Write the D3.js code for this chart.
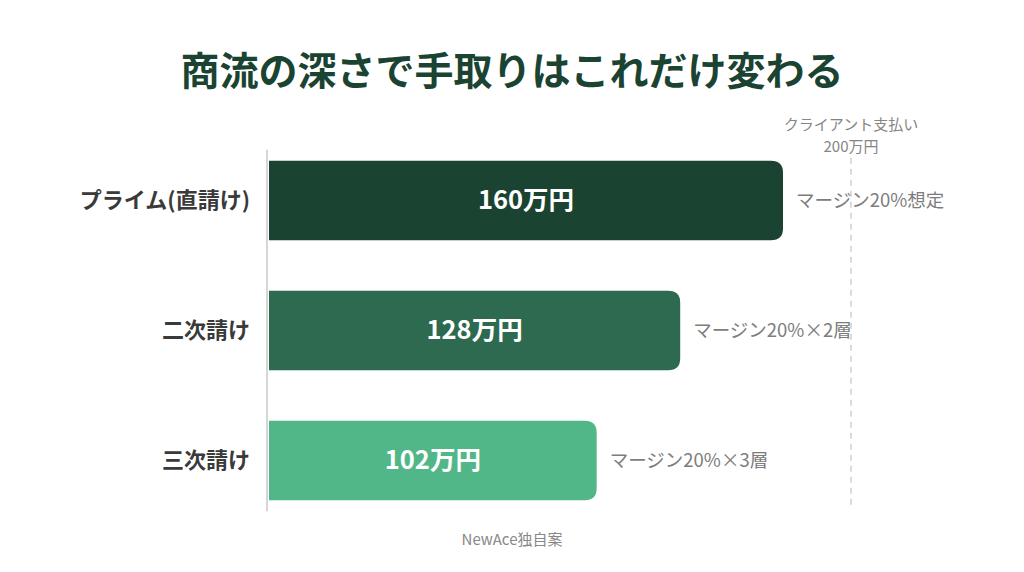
<!DOCTYPE html>
<html>
<head>
<meta charset="utf-8">
<script src="https://cdn.jsdelivr.net/npm/d3@7"></script>
<style>
  html, body { margin: 0; padding: 0; background: #fff; }
  svg { display: block; font-family: "Noto Sans CJK JP", "Noto Sans", sans-serif; }
</style>
</head>
<body>
<svg id="chart"></svg>
<script>
// data
const categories = ['プライム(直請け)', '二次請け', '三次請け']
const values = [160, 128, 102]
const valueLabels = ['160万円', '128万円', '102万円']
const notes = ['マージン20%想定', 'マージン20%×2層', 'マージン20%×3層']
const colors = ['#1b4332', '#2d6a4f', '#52b788']
const refLabel = ['クライアント支払い', '200万円']

const width = 1024
const height = 572

const svg = d3.select('#chart')
    .attr('width', width)
    .attr('height', height)

// title
svg.append('text')
    .attr('x', width / 2)
    .attr('y', 85)
    .attr('text-anchor', 'middle')
    .attr('font-size', 39)
    .attr('font-weight', 700)
    .attr('fill', '#1b4332')
    .text('商流の深さで手取りはこれだけ変わる')

// scales
const x = d3.scaleLinear()
    .domain([0, d3.max(values)])
    .range([269, 783])

const y = d3.scaleBand()
    .domain(categories)
    .range([142, 519])
    .paddingInner(0.39)
    .paddingOuter(0.145)

const rows = categories.map((c, i) => ({
    cat: c, value: values[i], label: valueLabels[i], note: notes[i], color: colors[i]
}))

// reference (client payment) dashed line, placed just right of the widest bar note
const refX = x.range()[1] + 68
svg.append('line')
    .attr('x1', refX).attr('x2', refX)
    .attr('y1', y(categories[0]) - 3)
    .attr('y2', y(categories[categories.length - 1]) + y.bandwidth() + 9)
    .attr('stroke', '#cfcfcf')
    .attr('stroke-width', 1.5)
    .attr('stroke-dasharray', '6,5')

svg.append('text')
    .attr('text-anchor', 'middle')
    .attr('font-size', 15)
    .attr('fill', '#858585')
    .selectAll('tspan')
    .data(refLabel)
    .join('tspan')
    .attr('x', refX)
    .attr('y', (d, i) => 130 + i * 22)
    .text(d => d)

// baseline axis
svg.append('line')
    .attr('x1', x(0) - 2).attr('x2', x(0) - 2)
    .attr('y1', y(categories[0]) - 11)
    .attr('y2', y(categories[categories.length - 1]) + y.bandwidth() + 11)
    .attr('stroke', '#d6d6d6')
    .attr('stroke-width', 2)

// bars with rounded right end
const r = 12
const barPath = d => {
    const x0 = x(0), x1 = x(d.value), y0 = y(d.cat), y1 = y0 + y.bandwidth()
    return `M${x0},${y0} H${x1 - r} Q${x1},${y0} ${x1},${y0 + r} V${y1 - r} Q${x1},${y1} ${x1 - r},${y1} H${x0} Z`
}

const g = svg.append('g')
    .selectAll('g')
    .data(rows)
    .join('g')

g.append('path')
    .attr('d', barPath)
    .attr('fill', d => d.color)

g.append('text')
    .attr('x', d => (x(0) + x(d.value)) / 2)
    .attr('y', d => y(d.cat) + y.bandwidth() / 2)
    .attr('dy', '0.35em')
    .attr('text-anchor', 'middle')
    .attr('font-size', 25.5)
    .attr('font-weight', 700)
    .attr('fill', '#fff')
    .text(d => d.label)

g.append('text')
    .attr('x', 250)
    .attr('y', d => y(d.cat) + y.bandwidth() / 2)
    .attr('dy', '0.35em')
    .attr('text-anchor', 'end')
    .attr('font-size', 22)
    .attr('font-weight', 700)
    .attr('fill', '#3a3a3a')
    .text(d => d.cat)

g.append('text')
    .attr('x', d => x(d.value) + 13)
    .attr('y', d => y(d.cat) + y.bandwidth() / 2)
    .attr('dy', '0.35em')
    .attr('font-size', 18.5)
    .attr('fill', '#7d7d7d')
    .text(d => d.note)

// footer
svg.append('text')
    .attr('x', width / 2)
    .attr('y', 545)
    .attr('text-anchor', 'middle')
    .attr('font-size', 15)
    .attr('fill', '#888')
    .text('NewAce独自案')
</script>
</body>
</html>
